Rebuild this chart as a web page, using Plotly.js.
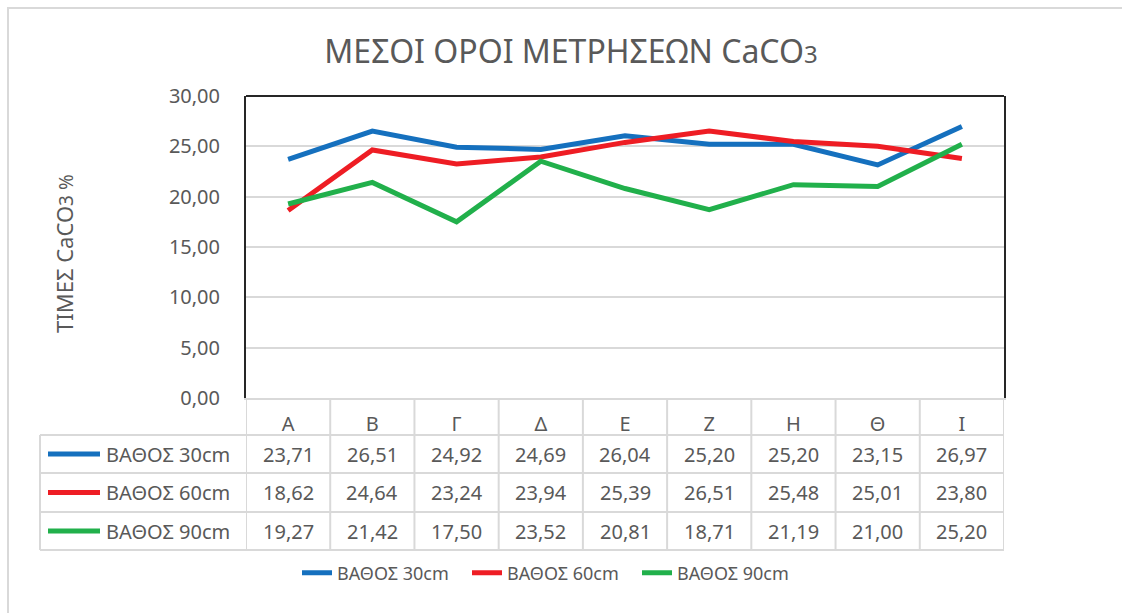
<!DOCTYPE html>
<html>
<head>
<meta charset="utf-8">
<script src="https://cdn.plot.ly/plotly-3.0.1.min.js"></script>
<style>html,body{margin:0;padding:0;background:#fff;}#chart{width:1122px;height:613px;}</style>
</head>
<body>
<div id="chart"></div>
<script>
// ---- data ----
const categories = ['Α', 'Β', 'Γ', 'Δ', 'Ε', 'Ζ', 'Η', 'Θ', 'Ι'];
const seriesNames = ['ΒΑΘΟΣ 30cm', 'ΒΑΘΟΣ 60cm', 'ΒΑΘΟΣ 90cm'];
const depth30 = [23.71, 26.51, 24.92, 24.69, 26.04, 25.20, 25.20, 23.15, 26.97];
const depth60 = [18.62, 24.64, 23.24, 23.94, 25.39, 26.51, 25.48, 25.01, 23.80];
const depth90 = [19.27, 21.42, 17.50, 23.52, 20.81, 18.71, 21.19, 21.00, 25.20];
const yTickValues = [0, 5, 10, 15, 20, 25, 30];
const chartTitle = 'ΜΕΣΟΙ ΟΡΟΙ ΜΕΤΡΗΣΕΩΝ CaCO<span style="font-size:24px">3</span>';
const yTitle = 'ΤΙΜΕΣ CaCO<span style="font-size:19px">3 %</span>';

// ---- styles ----
const colors = ['#1570be', '#ee1d24', '#21b04b'];
const textColor = '#595959';
const gridColor = '#d9d9d9';
const font = 'Noto Sans, Open Sans, sans-serif';

const allSeries = [depth30, depth60, depth90];

// plot-area pixel geometry helpers (plot area: x 246..1004, y 96..398)
const L = 246, R = 1004, T = 96, B = 398;
const px = x => (x - L) / (R - L);
const py = y => (B - y) / (B - T);

const traces = allSeries.map((vals, i) => ({
  type: 'scatter', mode: 'lines',
  x: categories, y: vals, name: seriesNames[i],
  line: {color: colors[i], width: 5},
  hoverinfo: 'x+y+name'
}));

const fmt = v => v.toFixed(2).replace('.', ',');

// table geometry
const rowLines = [435, 473, 512, 550];
const rowCenters = [454, 492.5, 531];
const shapes = [];
const annotations = [];

// chart outer border (light gray)
shapes.push({type: 'rect', xref: 'paper', yref: 'paper', x0: px(8), x1: px(1200), y0: py(700), y1: py(8),
  line: {color: gridColor, width: 2}, fillcolor: 'rgba(0,0,0,0)', layer: 'below'});

// top border of plot area (black)
shapes.push({type: 'line', xref: 'paper', yref: 'paper', x0: 0, x1: 1, y0: 1, y1: 1,
  line: {color: '#262626', width: 2}, layer: 'above'});

// horizontal table lines
rowLines.forEach(y => shapes.push({type: 'line', xref: 'paper', yref: 'paper',
  x0: px(40), x1: 1, y0: py(y), y1: py(y), line: {color: gridColor, width: 2}}));
// left edge of the series-name column
shapes.push({type: 'line', xref: 'paper', yref: 'paper', x0: px(40), x1: px(40),
  y0: py(rowLines[0]), y1: py(rowLines[rowLines.length - 1]), line: {color: gridColor, width: 2}});
// column separators (follow x axis categories)
for (let k = 0; k <= categories.length; k++) {
  shapes.push({type: 'line', xref: 'x', yref: 'paper', x0: k - 0.5, x1: k - 0.5,
    y0: 0, y1: py(rowLines[rowLines.length - 1]), line: {color: gridColor, width: 2}});
}

// series legend keys and names in table, and values
allSeries.forEach((vals, i) => {
  shapes.push({type: 'line', xref: 'paper', yref: 'paper', x0: px(48), x1: px(100),
    y0: py(rowCenters[i]), y1: py(rowCenters[i]), line: {color: colors[i], width: 5}});
  annotations.push({xref: 'paper', yref: 'paper', x: px(104), y: py(rowCenters[i]),
    xanchor: 'left', yanchor: 'middle', showarrow: false, text: seriesNames[i],
    font: {family: font, size: 20, color: textColor}});
  vals.forEach((v, j) => {
    annotations.push({xref: 'x', yref: 'paper', x: categories[j], y: py(rowCenters[i]),
      xanchor: 'center', yanchor: 'middle', showarrow: false, text: fmt(v),
      font: {family: font, size: 20, color: textColor}});
  });
});

// y-axis title
annotations.push({xref: 'paper', yref: 'paper', x: px(64), y: py(254), textangle: -90,
  xanchor: 'center', yanchor: 'middle', showarrow: false, text: yTitle,
  font: {family: font, size: 22, color: textColor}});

const layout = {
  width: 1122, height: 613,
  margin: {l: L, r: 1122 - R, t: T, b: 613 - B},
  paper_bgcolor: '#ffffff', plot_bgcolor: '#ffffff',
  separators: ',.',
  font: {family: font, color: textColor, size: 20},
  title: {text: chartTitle, x: 571 / 1122, xref: 'container', xanchor: 'center',
    y: 1 - 52 / 613, yref: 'container', yanchor: 'middle',
    font: {family: font, size: 32, color: textColor}},
  xaxis: {type: 'category', range: [-0.5, categories.length - 0.5], showgrid: false,
    zeroline: false, showline: true, linecolor: gridColor, linewidth: 2, ticks: '',
    ticklabelstandoff: 7, tickfont: {family: font, size: 20, color: textColor}, fixedrange: true},
  yaxis: {range: [0, 30], tickvals: yTickValues, tickformat: '.2f', showgrid: true,
    gridcolor: gridColor, gridwidth: 2, zeroline: false, showline: true, mirror: true,
    linecolor: '#262626', linewidth: 2, ticks: '', ticklabelstandoff: 20,
    tickfont: {family: font, size: 20, color: textColor}, fixedrange: true},
  showlegend: true,
  legend: {orientation: 'h', x: px(552), xanchor: 'center', y: py(573), yanchor: 'middle',
    entrywidth: 125, entrywidthmode: 'pixels',
    font: {family: font, size: 18, color: textColor}, bgcolor: 'rgba(0,0,0,0)'},
  shapes: shapes,
  annotations: annotations
};

Plotly.newPlot('chart', traces, layout, {displayModeBar: false, staticPlot: false});
</script>
</body>
</html>
